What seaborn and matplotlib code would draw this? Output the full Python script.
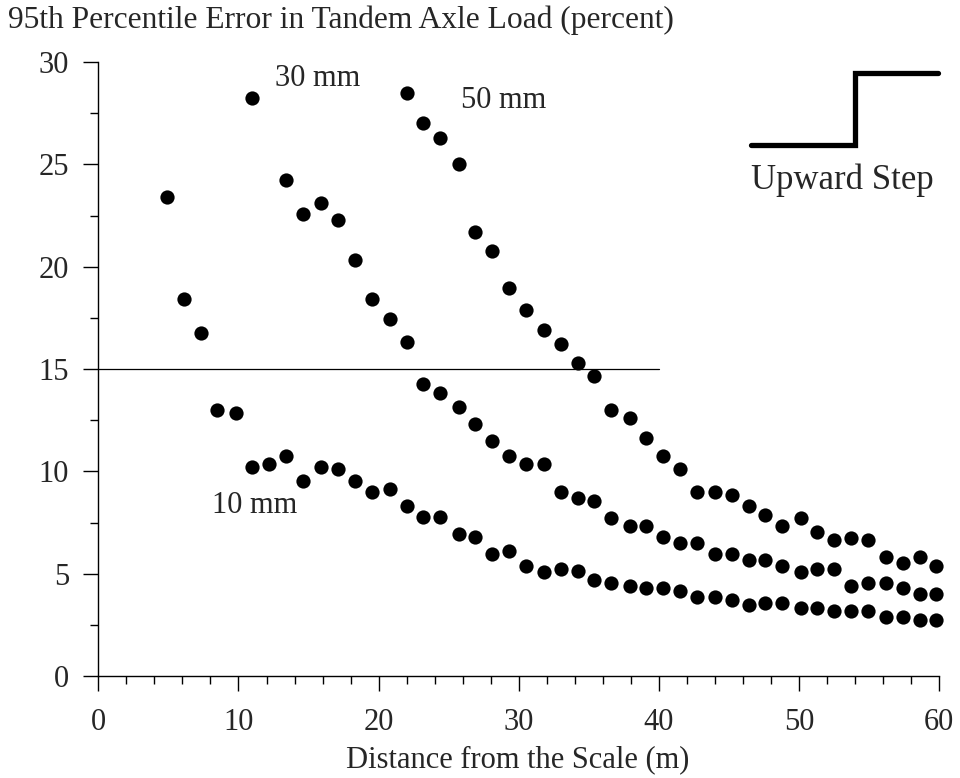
import numpy as np
import pandas as pd
import matplotlib
matplotlib.use("Agg")
import matplotlib.pyplot as plt
from matplotlib.ticker import MultipleLocator
import seaborn as sns

# Distance from the scale (m) for each measurement station
distance = [4.9, 6.1, 7.3, 8.5, 9.8, 11.0, 12.2, 13.4, 14.6, 15.9, 17.1, 18.3,
            19.5, 20.8, 22.0, 23.2, 24.4, 25.7, 26.9, 28.1, 29.3, 30.5, 31.8,
            33.0, 34.2, 35.4, 36.6, 37.9, 39.1, 40.3, 41.5, 42.7, 44.0, 45.2,
            46.4, 47.6, 48.8, 50.1, 51.3, 52.5, 53.7, 54.9, 56.2, 57.4, 58.6,
            59.8]

# 95th percentile error (percent) for each step height
err_10mm = [23.38, 18.40, 16.74, 12.99, 12.87, 10.19, 10.36, 10.74, 9.54, 10.23,
            10.10, 9.54, 8.97, 9.12, 8.31, 7.75, 7.75, 6.94, 6.81, 5.94, 6.10,
            5.39, 5.10, 5.23, 5.13, 4.69, 4.55, 4.39, 4.28, 4.28, 4.15, 3.84,
            3.84, 3.71, 3.47, 3.58, 3.58, 3.31, 3.31, 3.18, 3.18, 3.18, 2.86,
            2.86, 2.73, 2.73]

err_30mm = [np.nan] * 5 + [
            28.25, np.nan, 24.23, 22.55, 23.12, 22.28, 20.35, 18.40, 17.42,
            16.33, 14.27, 13.84, 13.13, 12.31, 11.48, 10.76, 10.36, 10.36, 8.97,
            8.71, 8.55, 7.73, 7.33, 7.33, 6.78, 6.48, 6.48, 5.94, 5.94, 5.67,
            5.67, 5.39, 5.10, 5.21, 5.21, 4.41, 4.55, 4.55, 4.28, 4.00, 4.00]

err_50mm = [np.nan] * 14 + [
            28.50, 27.03, 26.27, 25.04, 21.70, 20.77, 18.98, 17.88, 16.90,
            16.22, 15.30, 14.66, 12.99, 12.59, 11.61, 10.76, 10.10, 8.98, 9.00,
            8.84, 8.31, 7.87, 7.33, 7.73, 7.05, 6.65, 6.76, 6.65, 5.80, 5.50,
            5.80, 5.39]

step_labels = ["10 mm", "30 mm", "50 mm"]
threshold = 15

df = pd.concat([
    pd.DataFrame({"distance": distance, "error": vals, "step": lab})
    for lab, vals in zip(step_labels, [err_10mm, err_30mm, err_50mm])
]).dropna()

sns.set_theme(style="ticks")
plt.rcParams["font.family"] = ["Liberation Serif", "DejaVu Serif"]

fig = plt.figure(figsize=(9.6, 7.78), dpi=100)
ax = fig.add_axes([98.3 / 960, 1 - 676 / 778, 841 / 960, 614 / 778])

sns.scatterplot(data=df, x="distance", y="error", color="black", s=105,
                linewidth=0, legend=False, ax=ax, clip_on=False, zorder=3)

# 15 percent reference line
ax.plot([0, 40], [threshold, threshold], color="black", lw=0.9, zorder=2)

# step-height labels
fs = 22
ax.text(12.6, 29.2, "30 mm", fontsize=fs, va="center", ha="left")
ax.text(25.9, 28.1, "50 mm", fontsize=fs, va="center", ha="left")
ax.text(8.1, 8.35, "10 mm", fontsize=fs, va="center", ha="left")

# upward step sketch
ax.plot([46.6, 54.0, 54.0, 59.9], [25.94, 25.94, 29.46, 29.46],
        color="black", lw=3.8, solid_joinstyle="miter", clip_on=False)
ax.text(46.6, 24.2, "Upward Step", fontsize=25, va="center", ha="left")

ax.set_xlim(0, 60)
ax.set_ylim(0, 30)
ax.xaxis.set_major_locator(MultipleLocator(10))
ax.xaxis.set_minor_locator(MultipleLocator(2))
ax.yaxis.set_major_locator(MultipleLocator(5))
ax.yaxis.set_minor_locator(MultipleLocator(2.5))
ax.tick_params(which="major", length=11, width=1.0, color="black",
               labelsize=fs, pad=12)
ax.tick_params(which="minor", length=5.5, width=1.0, color="black")
ax.tick_params(axis="y", which="major", pad=10)
ax.set_xlabel("")
ax.set_ylabel("")
for side in ["top", "right"]:
    ax.spines[side].set_visible(False)
for side in ["left", "bottom"]:
    ax.spines[side].set_linewidth(1.0)
    ax.spines[side].set_color("black")

fig.text(8 / 960, 1 - 20 / 778,
         "95th Percentile Error in Tandem Axle Load (percent)",
         fontsize=22.7, ha="left", va="center")
fig.text(518 / 960, 1 - 760 / 778, "Distance from the Scale (m)",
         fontsize=fs, ha="center", va="center")

fig.savefig("out.png", dpi=100, facecolor="white")
